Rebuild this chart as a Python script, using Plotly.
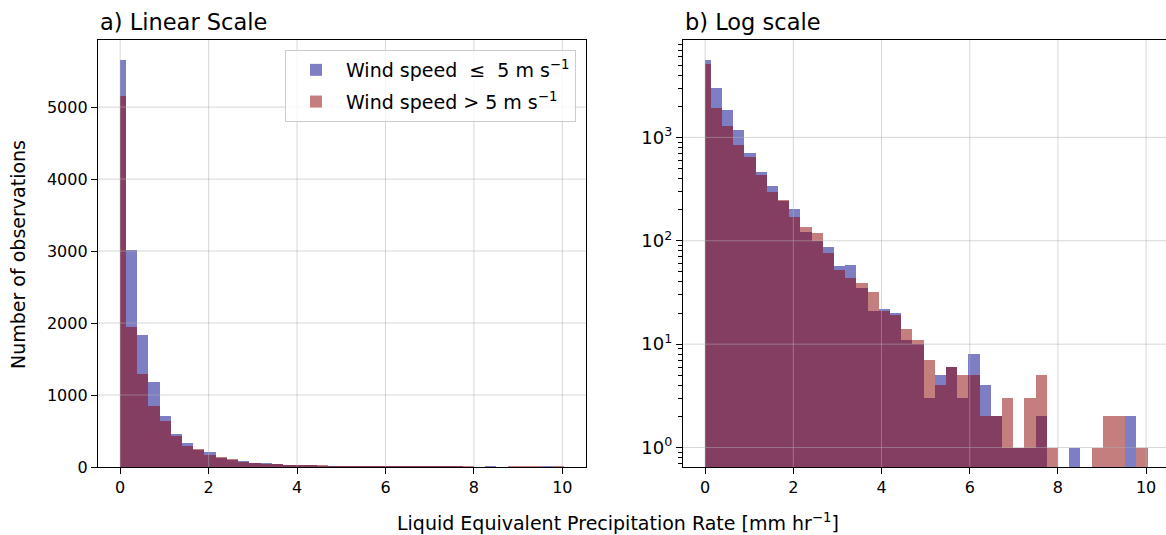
import plotly.graph_objects as go

# ---------------- data ----------------
bin_edges = [0.0, 0.127, 0.381, 0.635, 0.889, 1.143, 1.397, 1.651, 1.905, 2.159,
             2.413, 2.667, 2.921, 3.175, 3.429, 3.683, 3.937, 4.191, 4.445, 4.699,
             4.953, 5.207, 5.461, 5.715, 5.969, 6.223, 6.477, 6.731, 6.985, 7.239,
             7.493, 7.747, 8.001, 8.255, 8.509, 8.763, 9.017, 9.271, 9.525, 9.779,
             10.033]

counts_low = [5650, 3020, 1840, 1175, 705, 458, 340, 241, 202, 122,
              100, 87, 57, 58, 35, 21, 22, 20, 11, 10,
              3, 5, 6, 3, 8, 4, 2, 1, 1, 1,
              2, 0, 0, 1, 0, 0, 0, 0, 2, 0]

counts_high = [5160, 1944, 1297, 850, 646, 430, 295, 248, 170, 135,
               118, 76, 52, 44, 39, 32, 21, 19, 14, 11,
               7, 4, 6, 5, 5, 2, 2, 3, 1, 3,
               5, 1, 0, 0, 0, 1, 2, 2, 0, 1]

label_low = "Wind speed  \u2264  5 m s<sup>\u22121</sup>"
label_high = "Wind speed > 5 m s<sup>\u22121</sup>"

x_ticks = [0, 2, 4, 6, 8, 10]
lin_y_ticks = [0, 1000, 2000, 3000, 4000, 5000]
log_y_ticks = [1, 10, 100, 1000]
log_y_ticktext = ["10<sup>0</sup>", "10<sup>1</sup>", "10<sup>2</sup>", "10<sup>3</sup>"]

# ---------------- derived ----------------
centers = [(a + b) / 2 for a, b in zip(bin_edges[:-1], bin_edges[1:])]
widths = [b - a for a, b in zip(bin_edges[:-1], bin_edges[1:])]

BLUE = "rgb(0,0,139)"
RED = "rgb(139,0,0)"
FONT = "DejaVu Sans"

fig = go.Figure()

def add_pair(xa, ya, log, show):
    for vals, col, name in ((counts_low, BLUE, label_low), (counts_high, RED, label_high)):
        y = [v if (v > 0 or not log) else None for v in vals]
        fig.add_trace(go.Bar(
            x=centers, y=y, width=widths, xaxis=xa, yaxis=ya,
            marker=dict(color=col, line=dict(width=0)), opacity=0.5,
            name=name, showlegend=show, legendgroup=name,
        ))

add_pair("x", "y", False, True)
add_pair("x2", "y2", True, False)

W, H = 1166, 535
top, bottom = 40, 467
plot_h = bottom - top

def axis_common(fs=16):
    return dict(
        showline=True, linecolor="black", linewidth=1.3,
        ticks="outside", ticklen=6, tickwidth=1.3, tickcolor="black",
        tickfont=dict(family=FONT, size=fs, color="black"),
        showgrid=False, zeroline=False,
    )

fig.update_layout(
    width=W, height=H,
    margin=dict(l=0, r=0, t=top, b=H - bottom),
    paper_bgcolor="white", plot_bgcolor="white",
    barmode="overlay", bargap=0,
    font=dict(family=FONT, color="black"),
    xaxis=dict(domain=[98 / W, 586 / W], range=[-0.502, 10.535],
               tickvals=x_ticks, mirror=True, **axis_common()),
    yaxis=dict(range=[0, 5932], tickvals=lin_y_ticks, mirror=True, **axis_common()),
    xaxis2=dict(domain=[683 / W, 1.0], range=[-0.502, 10.451], anchor="y2",
                tickvals=x_ticks, mirror=True, **axis_common()),
    yaxis2=dict(type="log", range=[-0.188, 3.942], anchor="x2",
                tickvals=log_y_ticks, ticktext=log_y_ticktext, mirror=False,
                minor=dict(ticks="outside", ticklen=3.5, tickwidth=1, tickcolor="black",
                           tickvals=[0.7, 0.8, 0.9,
                                     2, 3, 4, 5, 6, 7, 8, 9,
                                     20, 30, 40, 50, 60, 70, 80, 90,
                                     200, 300, 400, 500, 600, 700, 800, 900,
                                     2000, 3000, 4000, 5000, 6000, 7000, 8000],
                           showgrid=False),
                **axis_common(18)),
    legend=dict(x=576 / W, y=(bottom - 50) / plot_h, xanchor="right", yanchor="top",
                bgcolor="rgba(255,255,255,0.8)", bordercolor="#cccccc", borderwidth=1,
                font=dict(family=FONT, size=19, color="black"),
                itemwidth=50, tracegroupgap=4),
)

# gridlines drawn above bars (as in the reference)
grid = dict(color="rgba(176,176,176,0.5)", width=1)
shapes = []
for xa, ya in (("x", "y"), ("x2", "y2")):
    for t in x_ticks:
        shapes.append(dict(type="line", xref=xa, yref=ya + " domain", x0=t, x1=t,
                           y0=0, y1=1, line=grid, layer="above"))
for t in lin_y_ticks[1:]:
    shapes.append(dict(type="line", xref="x domain", yref="y", x0=0, x1=1,
                       y0=t, y1=t, line=grid, layer="above"))
for t in log_y_ticks:
    shapes.append(dict(type="line", xref="x2 domain", yref="y2", x0=0, x1=1,
                       y0=t, y1=t, line=grid, layer="above"))
fig.update_layout(shapes=shapes)

ty = 1 + (top - 22) / plot_h
fig.add_annotation(text="a) Linear Scale", xref="paper", yref="paper", x=98 / W, y=ty,
                   xanchor="left", yanchor="middle", showarrow=False,
                   font=dict(family=FONT, size=22.5, color="black"))
fig.add_annotation(text="b) Log scale", xref="paper", yref="paper", x=683 / W, y=ty,
                   xanchor="left", yanchor="middle", showarrow=False,
                   font=dict(family=FONT, size=22.5, color="black"))
fig.add_annotation(text="Liquid Equivalent Precipitation Rate [mm hr<sup>\u22121</sup>]",
                   xref="paper", yref="paper", x=617.5 / W, y=(bottom - 522) / plot_h,
                   xanchor="center", yanchor="middle", showarrow=False,
                   font=dict(family=FONT, size=19, color="black"))
fig.add_annotation(text="Number of observations", xref="paper", yref="paper",
                   x=18 / W, y=(bottom - 255) / plot_h, textangle=-90,
                   xanchor="center", yanchor="middle", showarrow=False,
                   font=dict(family=FONT, size=19, color="black"))

fig.write_html("out.html")
